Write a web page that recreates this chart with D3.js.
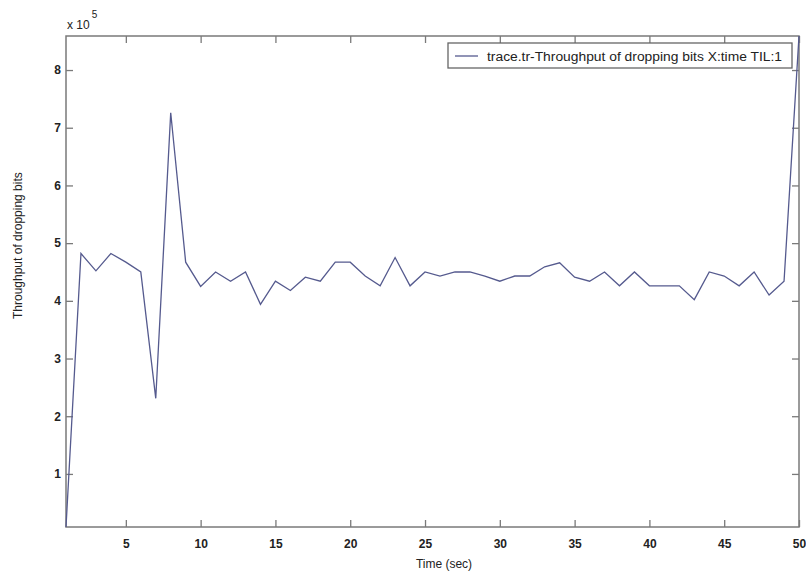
<!DOCTYPE html>
<html>
<head>
<meta charset="utf-8">
<script src="https://cdn.jsdelivr.net/npm/d3@7"></script>
<style>
  body { margin: 0; background: #fff; }
  svg { display: block; font-family: "Liberation Sans", Arial, sans-serif; }
</style>
</head>
<body>
<svg id="chart" width="806" height="575"></svg>
<script>
// time in seconds, throughput in units of 1e5 bits
const times = d3.range(1, 51);
const throughput = [
  0.08, 4.82, 4.52, 4.82, 4.67, 4.50, 2.31, 7.26, 4.67, 4.25,
  4.50, 4.34, 4.50, 3.94, 4.34, 4.18, 4.41, 4.34, 4.67, 4.67,
  4.43, 4.26, 4.75, 4.26, 4.50, 4.43, 4.50, 4.50, 4.43, 4.34,
  4.43, 4.43, 4.59, 4.66, 4.41, 4.34, 4.50, 4.26, 4.50, 4.26,
  4.26, 4.26, 4.02, 4.50, 4.43, 4.26, 4.50, 4.10, 4.34, 8.59
];
const xTicks = [5, 10, 15, 20, 25, 30, 35, 40, 45, 50];
const yTicks = [1, 2, 3, 4, 5, 6, 7, 8];
const legendLabel = 'trace.tr-Throughput of dropping bits X:time TIL:1';

const svg = d3.select('#chart');
const margin = { left: 66, right: 7, top: 36, bottom: 48 };
const width = 806, height = 575;

const x = d3.scaleLinear().domain([1, 50]).range([margin.left, width - margin.right]);
const y = d3.scaleLinear().domain([0.08, 8.59]).range([height - margin.bottom, margin.top]);

const axisColor = '#7a7a7a';
const tickLen = 7;

// box
svg.append('rect')
  .attr('x', x(1)).attr('y', y(8.59))
  .attr('width', x(50) - x(1)).attr('height', y(0.08) - y(8.59))
  .attr('fill', 'none').attr('stroke', axisColor).attr('stroke-width', 1.5);

// bottom axis (ticks inside)
svg.append('g')
  .attr('transform', `translate(0,${y(0.08)})`)
  .call(d3.axisBottom(x).tickValues(xTicks).tickSizeInner(-tickLen).tickSizeOuter(0).tickPadding(12));
// top ticks
svg.append('g')
  .attr('transform', `translate(0,${y(8.59)})`)
  .call(d3.axisTop(x).tickValues(xTicks).tickSizeInner(-tickLen).tickSizeOuter(0).tickFormat(''));
// left axis
svg.append('g')
  .attr('transform', `translate(${x(1)},0)`)
  .call(d3.axisLeft(y).tickValues(yTicks).tickSizeInner(-tickLen).tickSizeOuter(0).tickPadding(5));
// right ticks
svg.append('g')
  .attr('transform', `translate(${x(50)},0)`)
  .call(d3.axisRight(y).tickValues(yTicks).tickSizeInner(-tickLen).tickSizeOuter(0).tickFormat(''));

svg.selectAll('.domain').remove();
svg.selectAll('.tick line').attr('stroke', axisColor).attr('stroke-width', 1.3);
svg.selectAll('.tick text')
  .attr('fill', '#222')
  .style('font-size', '12px')
  .style('font-weight', 'bold');

// data line
const line = d3.line()
  .x((d, i) => x(times[i]))
  .y(d => y(d));

svg.append('path')
  .datum(throughput)
  .attr('fill', 'none')
  .attr('stroke', '#555a8e')
  .attr('stroke-width', 1.3)
  .attr('d', line);

// exponent label
const expo = svg.append('text')
  .attr('x', 67).attr('y', 29)
  .attr('fill', '#222')
  .style('font-size', '12px');
expo.append('tspan').text('x 10');
expo.append('tspan').attr('dy', -11).attr('dx', 2).style('font-size', '10px').text('5');

// axis labels
svg.append('text')
  .attr('x', 444).attr('y', 568)
  .attr('text-anchor', 'middle')
  .attr('fill', '#222')
  .style('font-size', '12px')
  .text('Time (sec)');

svg.append('text')
  .attr('transform', 'translate(22,319) rotate(-90)')
  .attr('text-anchor', 'start')
  .attr('fill', '#222')
  .style('font-size', '12px')
  .text('Throughput of dropping bits');

// legend
const legend = svg.append('g');
legend.append('rect')
  .attr('x', 448).attr('y', 43)
  .attr('width', 344).attr('height', 25)
  .attr('fill', '#fff').attr('stroke', '#666').attr('stroke-width', 1.3);
legend.append('line')
  .attr('x1', 455).attr('x2', 478).attr('y1', 56).attr('y2', 56)
  .attr('stroke', '#555a8e').attr('stroke-width', 1.3);
legend.append('text')
  .attr('x', 487).attr('y', 60.5)
  .attr('fill', '#222')
  .style('font-size', '12px')
  .attr('textLength', 295).attr('lengthAdjust', 'spacingAndGlyphs')
  .text(legendLabel);
</script>
</body>
</html>
